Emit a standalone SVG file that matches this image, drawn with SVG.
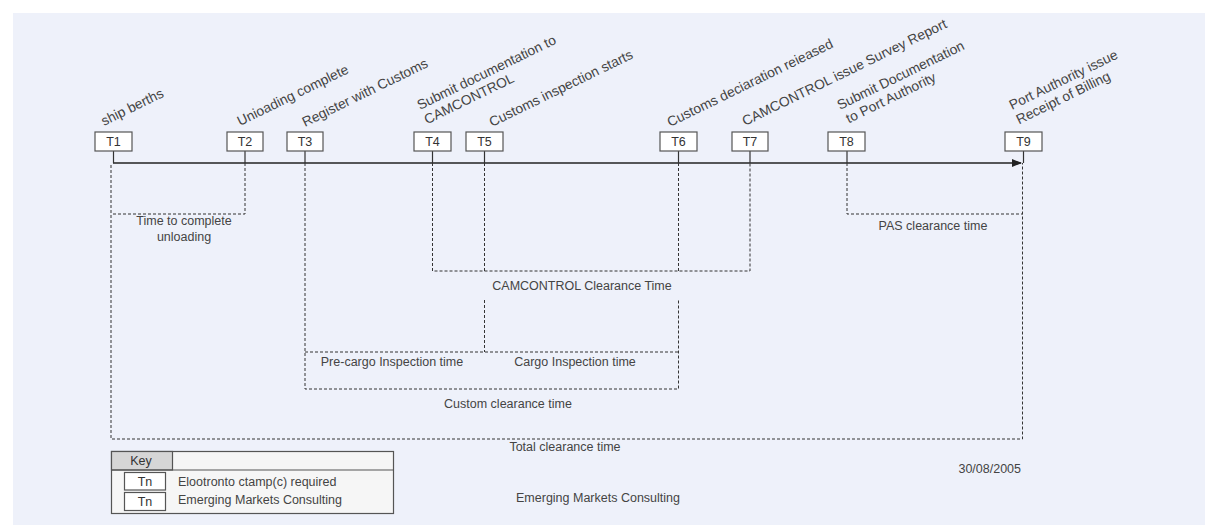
<svg xmlns="http://www.w3.org/2000/svg" width="1205" height="525" viewBox="0 0 1205 525">
<defs>
<style>
.bg{fill:#EEF1FA}
.tb{fill:#fff;stroke:#555;stroke-width:1.2}
.tt{font-family:"Liberation Sans",Arial,sans-serif;font-size:12.5px;fill:#333;text-anchor:middle}
.lbl{font-family:"Liberation Sans",Arial,sans-serif;font-size:13.8px;fill:#444}
.kt{font-family:"Liberation Sans",Arial,sans-serif;font-size:12.5px;fill:#444}
.br{font-family:"Liberation Sans",Arial,sans-serif;font-size:12.5px;fill:#444;text-anchor:middle}
.dash{fill:none;stroke:#333;stroke-width:1;stroke-dasharray:3,2}
.stem{stroke:#333;stroke-width:1.2}
.main{stroke:#222;stroke-width:1.6}
</style>
<marker id="arr" markerWidth="10" markerHeight="8" refX="9" refY="4" orient="auto" markerUnits="userSpaceOnUse">
<path d="M0,0 L10,4 L0,8 Z" fill="#222"/>
</marker>
</defs>
<rect class="bg" x="13" y="13" width="1192" height="512"/>

<g id="connectors">
<line class="main" x1="113" y1="163" x2="1021" y2="163" marker-end="url(#arr)"/>
<line class="stem" x1="113.5" y1="151" x2="113.5" y2="163"/>
<line class="stem" x1="245" y1="151" x2="245" y2="163"/>
<line class="stem" x1="305" y1="151" x2="305" y2="163"/>
<line class="stem" x1="432.5" y1="151" x2="432.5" y2="163"/>
<line class="stem" x1="484.5" y1="151" x2="484.5" y2="163"/>
<line class="stem" x1="678.5" y1="151" x2="678.5" y2="163"/>
<line class="stem" x1="750" y1="151" x2="750" y2="163"/>
<line class="stem" x1="847" y1="151" x2="847" y2="163"/>
<line class="stem" x1="1023.5" y1="151" x2="1023.5" y2="163"/>
<path class="dash" d="M245,163 V214 H111"/>
<path class="dash" d="M111,165 V439 H1022.5 V163"/>
<path class="dash" d="M847,163 V214 H1022.5"/>
<path class="dash" d="M432.5,163 V271 H750 V163"/>
<line class="dash" x1="484.5" y1="163" x2="484.5" y2="271"/>
<line class="dash" x1="678.5" y1="163" x2="678.5" y2="271"/>
<path class="dash" d="M305,163 V389 H678.5 V300"/>
<line class="dash" x1="305" y1="352" x2="678.5" y2="352"/>
<line class="dash" x1="484.5" y1="300" x2="484.5" y2="352"/>
</g>

<g id="bracket-labels">
<text class="br" x="184" y="225">Time to complete</text>
<text class="br" x="184" y="241">unloading</text>
<text class="br" x="933" y="230">PAS clearance time</text>
<text class="br" x="582" y="290">CAMCONTROL Clearance Time</text>
<text class="br" x="392" y="366">Pre-cargo Inspection time</text>
<text class="br" x="575" y="366">Cargo Inspection time</text>
<text class="br" x="508" y="408">Custom clearance time</text>
<text class="br" x="565" y="451">Total clearance time</text>
</g>

<g id="T1"><rect class="tb" x="95" y="132" width="37" height="19"/><text class="tt" x="113.5" y="146">T1</text>
<text class="lbl" x="104" y="126" transform="rotate(-26 104 126)">ship berths</text></g>
<g id="T2"><rect class="tb" x="227" y="132" width="36" height="19"/><text class="tt" x="245" y="146">T2</text>
<text class="lbl" x="240" y="126" transform="rotate(-26 240 126)">Unioading complete</text></g>
<g id="T3"><rect class="tb" x="287" y="132" width="36" height="19"/><text class="tt" x="305" y="146">T3</text>
<text class="lbl" x="305" y="127" transform="rotate(-26 305 127)">Register with Customs</text></g>
<g id="T4"><rect class="tb" x="414" y="132" width="37" height="19"/><text class="tt" x="432.5" y="146">T4</text>
<text class="lbl" x="420" y="110" transform="rotate(-26 420 110)">Submit documentation to<tspan x="420" dy="16">CAMCONTROL</tspan></text></g>
<g id="T5"><rect class="tb" x="466" y="132" width="37" height="19"/><text class="tt" x="484.5" y="146">T5</text>
<text class="lbl" x="492" y="127" transform="rotate(-26 492 127)">Customs inspection starts</text></g>
<g id="T6"><rect class="tb" x="660" y="132" width="37" height="19"/><text class="tt" x="678.5" y="146">T6</text>
<text class="lbl" x="670" y="127" transform="rotate(-26 670 127)">Customs deciaration reieased</text></g>
<g id="T7"><rect class="tb" x="732" y="132" width="36" height="19"/><text class="tt" x="750" y="146">T7</text>
<text class="lbl" x="745" y="126" transform="rotate(-26 745 126)">CAMCONTROL issue Survey Report</text></g>
<g id="T8"><rect class="tb" x="828" y="132" width="37" height="19"/><text class="tt" x="846.5" y="146">T8</text>
<text class="lbl" x="840" y="110" transform="rotate(-26 840 110)">Submit Documentation<tspan x="842" dy="16">to Port Authority</tspan></text></g>
<g id="T9"><rect class="tb" x="1005" y="132" width="37" height="19"/><text class="tt" x="1023.5" y="146">T9</text>
<text class="lbl" x="1012" y="110" transform="rotate(-26 1012 110)">Port Authority issue<tspan x="1012" dy="16">Receipt of Billing</tspan></text></g>

<g id="key">
<rect x="111.5" y="451.5" width="282" height="62" fill="#f6f6f6" stroke="#555" stroke-width="1.2"/>
<rect x="111.5" y="451.5" width="61" height="18.5" fill="#d6d6d6" stroke="#555" stroke-width="1.2"/>
<line x1="111.5" y1="470" x2="393.5" y2="470" stroke="#555" stroke-width="1.2"/>
<text class="tt" x="141" y="465">Key</text>
<rect class="tb" x="124.5" y="472.5" width="41" height="17.5"/>
<text class="tt" x="145" y="486">Tn</text>
<rect class="tb" x="124.5" y="492.5" width="41" height="18"/>
<text class="tt" x="145" y="506">Tn</text>
<text class="kt" x="178" y="486">Elootronto ctamp(c) required</text>
<text class="kt" x="178" y="504">Emerging Markets Consulting</text>
</g>

<g id="footer">
<text class="br" x="598" y="502">Emerging Markets Consulting</text>
<text class="br" x="1021" y="473" style="text-anchor:end">30/08/2005</text>
</g>
</svg>
